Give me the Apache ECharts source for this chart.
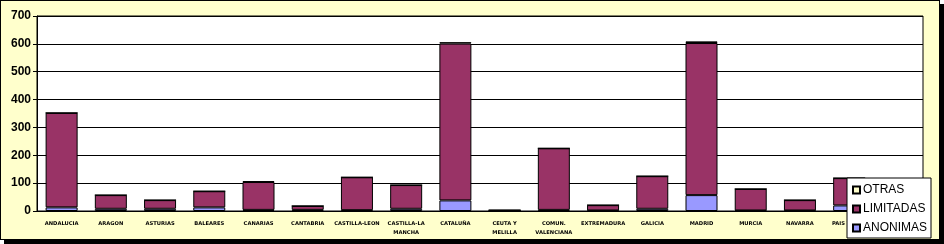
<!DOCTYPE html>
<html><head><meta charset="utf-8">
<script src="https://cdn.jsdelivr.net/npm/echarts@6/dist/echarts.min.js"></script>
<style>
html,body{margin:0;padding:0;background:#fff;}
#frame{position:absolute;left:0;top:0;width:938px;height:238px;background:#FFFFCC;border:1px solid #000;box-shadow:4px 4px 0 #000;}
#chart{position:absolute;left:-1px;top:-1px;width:944px;height:244px;}
</style></head>
<body><div id="frame"><div id="chart"></div></div>
<script>
const categories = ['ANDALUCIA','ARAGON','ASTURIAS','BALEARES','CANARIAS','CANTABRIA','CASTILLA-LEON','CASTILLA-LA\nMANCHA','CATALUÑA','CEUTA Y\nMELILLA','COMUN.\nVALENCIANA','EXTREMADURA','GALICIA','MADRID','MURCIA','NAVARRA','PAIS VASCO','LA RIOJA'];
const anonimas  = [13, 8, 8, 13, 4, 4, 3, 8, 38, 1, 4, 2, 8, 57, 2, 2, 20, 2];
const limitadas = [339, 49, 31, 58, 100, 14, 118, 85, 563, 2, 221, 19, 117, 546, 77, 37, 98, 16];
const otras     = [0, 0, 0, 0, 3, 0, 0, 0, 5, 0, 0, 0, 0, 6, 0, 0, 0, 0];
const yTicks = {min: 0, max: 700, interval: 100};

const chart = echarts.init(document.getElementById('chart'));
const bs = {borderColor:'#000', borderWidth:1};
chart.setOption({
  animation:false,
  grid:{left:37, top:16, right:21, bottom:33, show:true, backgroundColor:'#fff', borderColor:'#000', borderWidth:1},
  legend:{
    data:['OTRAS','LIMITADAS','ANONIMAS'], orient:'vertical', left:847, top:178,
    backgroundColor:'#fff', borderColor:'#000', borderWidth:1, padding:[6,4,4,5],
    itemWidth:7, itemHeight:7, itemGap:7, icon:'rect',
    textStyle:{fontFamily:'Liberation Sans', fontSize:12, color:'#000', padding:[0,0,0,-2]}
  },
  xAxis:{type:'category', data:categories,
    axisLine:{lineStyle:{color:'#000', width:1}}, axisTick:{show:false},
    axisLabel:{interval:0, fontFamily:'DejaVu Sans', fontWeight:'bold', fontSize:5.2, color:'#000', margin:8, lineHeight:9}},
  yAxis:{type:'value', min:yTicks.min, max:yTicks.max, interval:yTicks.interval,
    axisLine:{show:true, lineStyle:{color:'#000'}}, axisTick:{show:true, length:4, lineStyle:{color:'#000'}},
    splitLine:{lineStyle:{color:'#000', width:1}},
    axisLabel:{fontFamily:'Liberation Sans', fontWeight:'bold', fontSize:12, color:'#000', margin:6}},
  series:[
    {name:'ANONIMAS', type:'bar', stack:'t', data:anonimas, barWidth:32, itemStyle:Object.assign({color:'#9999FF'},bs)},
    {name:'LIMITADAS', type:'bar', stack:'t', data:limitadas, barWidth:32, itemStyle:Object.assign({color:'#993366'},bs)},
    {name:'OTRAS', type:'bar', stack:'t', data:otras, barWidth:32, itemStyle:Object.assign({color:'#FFFFCC'},bs)}
  ]
});
</script></body></html>
